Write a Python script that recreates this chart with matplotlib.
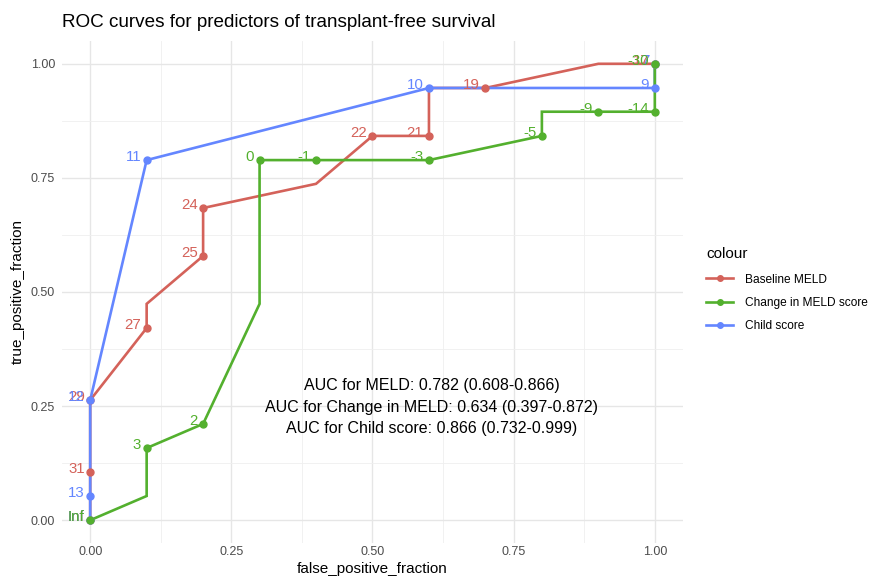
import matplotlib
matplotlib.use("Agg")
import matplotlib.pyplot as plt

plt.rcParams["font.family"] = ["Liberation Sans", "DejaVu Sans"]

# Baseline MELD
meld_path_x = [0.0, 0.0, 0.0, 0.1, 0.1, 0.2, 0.2, 0.4, 0.5, 0.6, 0.6, 0.7, 0.9, 1.0]
meld_path_y = [0.0, 0.105, 0.263, 0.421, 0.474, 0.579, 0.684, 0.737, 0.842, 0.842, 0.947, 0.947, 1.0, 1.0]
meld_pt_x = [0.0, 0.0, 0.0, 0.1, 0.2, 0.2, 0.5, 0.6, 0.7, 1.0]
meld_pt_y = [0.0, 0.105, 0.263, 0.421, 0.579, 0.684, 0.842, 0.842, 0.947, 1.0]
meld_labels = ["Inf", "31", "29", "27", "25", "24", "22", "21", "19", "17"]

# Change in MELD score
dmeld_path_x = [0.0, 0.1, 0.1, 0.2, 0.3, 0.3, 0.4, 0.6, 0.8, 0.8, 0.9, 1.0, 1.0]
dmeld_path_y = [0.0, 0.053, 0.158, 0.211, 0.474, 0.789, 0.789, 0.789, 0.842, 0.895, 0.895, 0.895, 1.0]
dmeld_pt_x = [0.0, 0.1, 0.2, 0.3, 0.4, 0.6, 0.8, 0.9, 1.0, 1.0]
dmeld_pt_y = [0.0, 0.158, 0.211, 0.789, 0.789, 0.789, 0.842, 0.895, 0.895, 1.0]
dmeld_labels = ["Inf", "3", "2", "0", "-1", "-3", "-5", "-9", "-14", "-30"]

# Child score
child_path_x = [0.0, 0.0, 0.0, 0.1, 0.6, 1.0, 1.0]
child_path_y = [0.0, 0.053, 0.263, 0.789, 0.947, 0.947, 1.0]
child_pt_x = [0.0, 0.0, 0.0, 0.1, 0.6, 1.0, 1.0]
child_pt_y = [0.0, 0.053, 0.263, 0.789, 0.947, 0.947, 1.0]
child_labels = ["Inf", "13", "12", "11", "10", "9", "7"]

series_names = ["Baseline MELD", "Change in MELD score", "Child score"]
auc_lines = [
    "AUC for MELD: 0.782 (0.608-0.866)",
    "AUC for Change in MELD: 0.634 (0.397-0.872)",
    "AUC for Child score: 0.866 (0.732-0.999)",
]

colors = ["#D4625A", "#53B02E", "#6486FF"]
series = [
    (meld_path_x, meld_path_y, meld_pt_x, meld_pt_y, meld_labels),
    (dmeld_path_x, dmeld_path_y, dmeld_pt_x, dmeld_pt_y, dmeld_labels),
    (child_path_x, child_path_y, child_pt_x, child_pt_y, child_labels),
]
# red first, then blue, green on top (as in the reference)
draw_order = [0, 2, 1]

fig = plt.figure(figsize=(8.69, 5.82), dpi=100)
ax = fig.add_axes([0.0713, 0.067, 0.7147, 0.8626])

handles = {}
for k, i in enumerate(draw_order):
    px, py, qx, qy, labs = series[i]
    c = colors[i]
    ax.plot(px, py, color=c, lw=1.9, zorder=3 + k * 0.1,
            solid_joinstyle="miter")
    ax.plot(qx, qy, "o", color=c, ms=5, zorder=4 + k * 0.1)
    for x, y, t in zip(qx, qy, labs):
        ax.annotate(t, (x, y), xytext=(-4, 2), textcoords="offset points",
                    ha="right", va="center", color=c, fontsize=10.8,
                    zorder=5 + k * 0.1)
    h, = ax.plot([], [], color=c, lw=1.9, marker="o", ms=4)
    handles[i] = h

ax.text(0.605, 0.248, "\n".join(auc_lines), ha="center", va="center",
        fontsize=11.5, linespacing=1.55, color="black", zorder=6)

ax.set_xlim(-0.05, 1.05)
ax.set_ylim(-0.05, 1.05)
ticks = [0, 0.25, 0.5, 0.75, 1.0]
ax.set_xticks(ticks)
ax.set_yticks(ticks)
ax.set_xticklabels(["0.00", "0.25", "0.50", "0.75", "1.00"])
ax.set_yticklabels(["0.00", "0.25", "0.50", "0.75", "1.00"])
ax.set_xticks([0.125, 0.375, 0.625, 0.875], minor=True)
ax.set_yticks([0.125, 0.375, 0.625, 0.875], minor=True)
ax.grid(True, which="major", color="#E6E6E6", lw=1.0, zorder=0)
ax.grid(True, which="minor", color="#EFEFEF", lw=0.6, zorder=0)
ax.tick_params(which="both", length=0, labelsize=9, labelcolor="#4D4D4D")
ax.tick_params(axis="x", pad=2)
ax.tick_params(axis="y", pad=5)
for s in ax.spines.values():
    s.set_visible(False)
ax.set_axisbelow(True)

ax.set_xlabel("false_positive_fraction", fontsize=11, labelpad=3)
ax.set_ylabel("true_positive_fraction", fontsize=11, labelpad=4)
fig.text(0.0713, 0.962, "ROC curves for predictors of transplant-free survival",
         fontsize=13.6, ha="left", va="center")

leg = fig.legend([handles[0], handles[1], handles[2]], series_names,
                 loc="upper left", bbox_to_anchor=(0.8005, 0.594),
                 title="colour", frameon=False, fontsize=8.6,
                 title_fontsize=11, handlelength=2.2, labelspacing=0.95,
                 handletextpad=1.0)
leg._legend_box.align = "left"
leg._legend_box.sep = 9

fig.savefig("out.png", dpi=100)
